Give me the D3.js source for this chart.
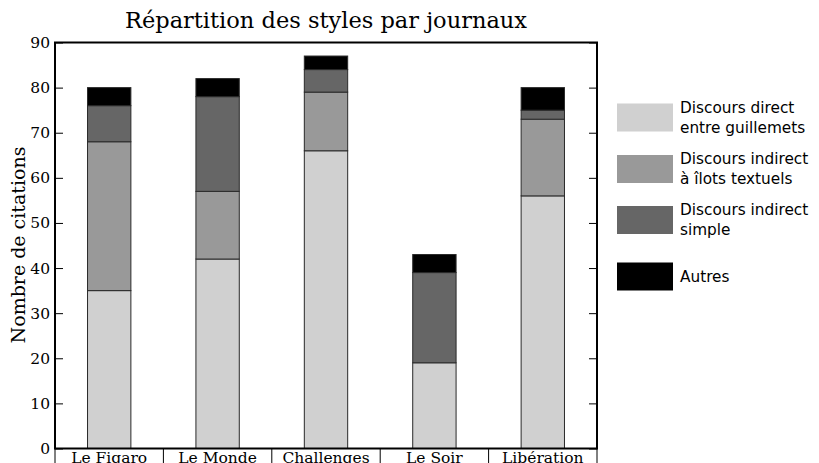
<!DOCTYPE html>
<html><head><meta charset="utf-8">
<script src="https://cdn.jsdelivr.net/npm/d3@7"></script>
<style>body{margin:0;background:#fff}svg{display:block}</style>
</head><body>
<svg id="c" width="819" height="463"></svg>
<script>
const categories = ["Le Figaro","Le Monde","Challenges","Le Soir","Libération"];
const seriesNames = [["Discours direct","entre guillemets"],["Discours indirect","à îlots textuels"],["Discours indirect","simple"],["Autres"]];
const direct = [35,42,66,19,56];
const ilots = [33,15,13,0,17];
const indirect = [8,21,5,20,2];
const autres = [4,4,3,4,5];
const yTicks = [0,10,20,30,40,50,60,70,80,90];
const colors = ["#d0d0d0","#999999","#666666","#000000"];

const svg = d3.select("#c");
const L=55, R=597, T=42.5, B=448.5;
const x = d3.scaleBand().domain(categories).range([L,R]);
const y = d3.scaleLinear().domain([0,90]).range([B,T]);
const serif = "'DejaVu Serif', serif";
const sans = "'DejaVu Sans', sans-serif";

const data = categories.map((c,i)=>({cat:c, v:[direct[i],ilots[i],indirect[i],autres[i]]}));
const stack = d3.stack().keys([0,1,2,3]).value((d,k)=>d.v[k]);
const layers = stack(data);
const bw = x.bandwidth()*0.4;
layers.forEach((layer,k)=>{
  svg.append("g").selectAll("rect").data(layer.filter(d=>d[1]>d[0])).join("rect")
    .attr("x",d=>x(d.data.cat)+x.bandwidth()/2-bw/2)
    .attr("y",d=>y(d[1]))
    .attr("width",bw)
    .attr("height",d=>y(d[0])-y(d[1]))
    .attr("fill",colors[k])
    .attr("stroke","#2a2a2a").attr("stroke-width",1);
});

// frame
svg.append("rect").attr("x",L).attr("y",T).attr("width",R-L).attr("height",B-T)
  .attr("fill","none").attr("stroke","#000").attr("stroke-width",2);

// y ticks (inward both sides)
const yl = d3.axisLeft(y).tickValues(yTicks).tickSizeInner(-8).tickSizeOuter(0).tickPadding(5);
const ga = svg.append("g").attr("transform",`translate(${L},0)`).call(yl);
ga.select(".domain").remove();
ga.selectAll("text").attr("font-family",serif).attr("font-size",15.5).attr("fill","#000");
const yr = d3.axisRight(y).tickValues(yTicks).tickSizeInner(-8).tickSizeOuter(0).tickFormat("");
const gr = svg.append("g").attr("transform",`translate(${R},0)`).call(yr);
gr.select(".domain").remove();

// table below as category axis
const tbl = svg.append("g");
tbl.selectAll("line").data(categories.map(c=>x(c)).concat([R])).join("line")
  .attr("x1",d=>d).attr("x2",d=>d).attr("y1",B).attr("y2",470)
  .attr("stroke","#000").attr("stroke-width",1);
tbl.selectAll("text").data(categories).join("text")
  .attr("x",d=>x(d)+x.bandwidth()/2).attr("y",463).attr("text-anchor","middle")
  .attr("font-family",serif).attr("font-size",15.5).text(d=>d);

// title
svg.append("text").attr("x",(L+R)/2).attr("y",28).attr("text-anchor","middle")
  .attr("font-family",serif).attr("font-size",22.5).text("Répartition des styles par journaux");
// y label
svg.append("text").attr("transform",`translate(25,245) rotate(-90)`).attr("text-anchor","middle")
  .attr("font-family",serif).attr("font-size",19).text("Nombre de citations");

// legend
const legY = [103.5,155,206,262.5];
const lg = svg.append("g");
seriesNames.forEach((nm,k)=>{
  lg.append("rect").attr("x",617).attr("y",legY[k]).attr("width",56).attr("height",28).attr("fill",colors[k]);
  const cy = legY[k]+14;
  const t = lg.append("text").attr("font-family",sans).attr("font-size",15.3);
  nm.forEach((line,j)=>{
    const off = (j-(nm.length-1)/2)*20;
    t.append("tspan").attr("x",680).attr("y",cy+off).attr("dy","0.35em").text(line);
  });
});
</script>
</body></html>
